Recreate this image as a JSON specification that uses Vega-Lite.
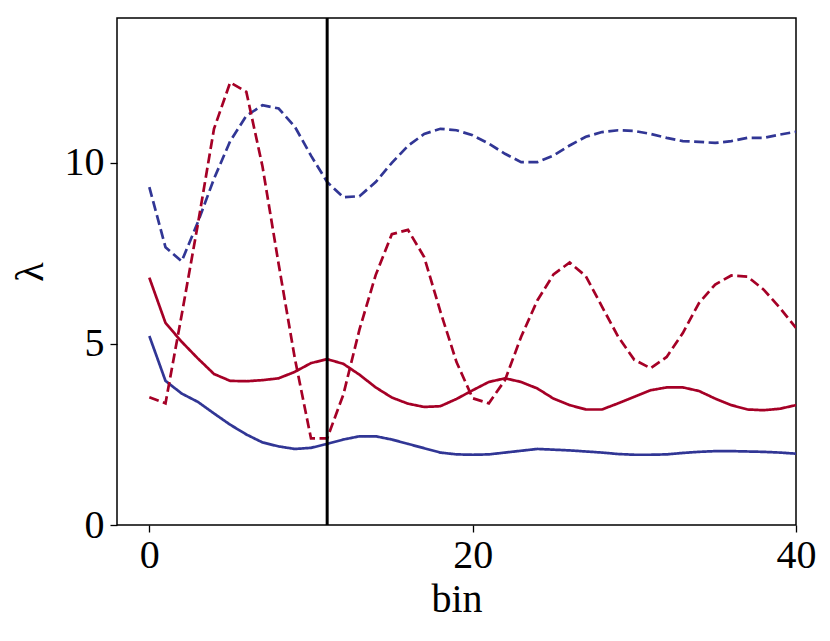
{
  "$schema": "https://vega.github.io/schema/vega-lite/v6.json",
  "width": 679,
  "height": 507,
  "autosize": "none",
  "padding": {"left": 117, "top": 18, "right": 34, "bottom": 116},
  "background": "white",
  "config": {
    "view": {"stroke": "black", "strokeWidth": 1.5},
    "axis": {
      "grid": false,
      "domain": false,
      "labelFont": "Liberation Serif",
      "labelFontSize": 40,
      "labelColor": "black",
      "titleFont": "Liberation Serif",
      "titleFontSize": 40,
      "titleFontWeight": "normal",
      "titleColor": "black",
      "tickColor": "black",
      "tickSize": 7,
      "tickWidth": 1.3
    }
  },
  "layer": [
    {
      "data": {
        "values": [
          {"bin":0,"v":5.22,"s":"bs"},{"bin":1,"v":3.98,"s":"bs"},{"bin":2,"v":3.63,"s":"bs"},{"bin":3,"v":3.4,"s":"bs"},{"bin":4,"v":3.08,"s":"bs"},{"bin":5,"v":2.77,"s":"bs"},{"bin":6,"v":2.5,"s":"bs"},{"bin":7,"v":2.28,"s":"bs"},{"bin":8,"v":2.17,"s":"bs"},{"bin":9,"v":2.1,"s":"bs"},{"bin":10,"v":2.13,"s":"bs"},{"bin":11,"v":2.24,"s":"bs"},{"bin":12,"v":2.36,"s":"bs"},{"bin":13,"v":2.45,"s":"bs"},{"bin":14,"v":2.45,"s":"bs"},{"bin":15,"v":2.36,"s":"bs"},{"bin":16,"v":2.24,"s":"bs"},{"bin":17,"v":2.12,"s":"bs"},{"bin":18,"v":2.0,"s":"bs"},{"bin":19,"v":1.95,"s":"bs"},{"bin":20,"v":1.94,"s":"bs"},{"bin":21,"v":1.95,"s":"bs"},{"bin":22,"v":2.0,"s":"bs"},{"bin":23,"v":2.05,"s":"bs"},{"bin":24,"v":2.1,"s":"bs"},{"bin":25,"v":2.08,"s":"bs"},{"bin":26,"v":2.06,"s":"bs"},{"bin":27,"v":2.03,"s":"bs"},{"bin":28,"v":2.0,"s":"bs"},{"bin":29,"v":1.96,"s":"bs"},{"bin":30,"v":1.94,"s":"bs"},{"bin":31,"v":1.94,"s":"bs"},{"bin":32,"v":1.95,"s":"bs"},{"bin":33,"v":1.99,"s":"bs"},{"bin":34,"v":2.02,"s":"bs"},{"bin":35,"v":2.04,"s":"bs"},{"bin":36,"v":2.04,"s":"bs"},{"bin":37,"v":2.03,"s":"bs"},{"bin":38,"v":2.02,"s":"bs"},{"bin":39,"v":2.0,"s":"bs"},{"bin":40,"v":1.97,"s":"bs"},
          {"bin":0,"v":9.33,"s":"bd"},{"bin":1,"v":7.67,"s":"bd"},{"bin":2,"v":7.28,"s":"bd"},{"bin":3,"v":8.36,"s":"bd"},{"bin":4,"v":9.56,"s":"bd"},{"bin":5,"v":10.6,"s":"bd"},{"bin":6,"v":11.3,"s":"bd"},{"bin":7,"v":11.59,"s":"bd"},{"bin":8,"v":11.5,"s":"bd"},{"bin":9,"v":11.0,"s":"bd"},{"bin":10,"v":10.2,"s":"bd"},{"bin":11,"v":9.47,"s":"bd"},{"bin":12,"v":9.05,"s":"bd"},{"bin":13,"v":9.08,"s":"bd"},{"bin":14,"v":9.47,"s":"bd"},{"bin":15,"v":10.0,"s":"bd"},{"bin":16,"v":10.47,"s":"bd"},{"bin":17,"v":10.8,"s":"bd"},{"bin":18,"v":10.94,"s":"bd"},{"bin":19,"v":10.9,"s":"bd"},{"bin":20,"v":10.76,"s":"bd"},{"bin":21,"v":10.53,"s":"bd"},{"bin":22,"v":10.25,"s":"bd"},{"bin":23,"v":10.02,"s":"bd"},{"bin":24,"v":10.02,"s":"bd"},{"bin":25,"v":10.2,"s":"bd"},{"bin":26,"v":10.48,"s":"bd"},{"bin":27,"v":10.72,"s":"bd"},{"bin":28,"v":10.85,"s":"bd"},{"bin":29,"v":10.9,"s":"bd"},{"bin":30,"v":10.88,"s":"bd"},{"bin":31,"v":10.8,"s":"bd"},{"bin":32,"v":10.69,"s":"bd"},{"bin":33,"v":10.6,"s":"bd"},{"bin":34,"v":10.58,"s":"bd"},{"bin":35,"v":10.55,"s":"bd"},{"bin":36,"v":10.6,"s":"bd"},{"bin":37,"v":10.69,"s":"bd"},{"bin":38,"v":10.69,"s":"bd"},{"bin":39,"v":10.78,"s":"bd"},{"bin":40,"v":10.86,"s":"bd"},
          {"bin":0,"v":6.83,"s":"rs"},{"bin":1,"v":5.58,"s":"rs"},{"bin":2,"v":5.06,"s":"rs"},{"bin":3,"v":4.6,"s":"rs"},{"bin":4,"v":4.17,"s":"rs"},{"bin":5,"v":3.98,"s":"rs"},{"bin":6,"v":3.97,"s":"rs"},{"bin":7,"v":4.0,"s":"rs"},{"bin":8,"v":4.05,"s":"rs"},{"bin":9,"v":4.23,"s":"rs"},{"bin":10,"v":4.47,"s":"rs"},{"bin":11,"v":4.58,"s":"rs"},{"bin":12,"v":4.45,"s":"rs"},{"bin":13,"v":4.15,"s":"rs"},{"bin":14,"v":3.8,"s":"rs"},{"bin":15,"v":3.52,"s":"rs"},{"bin":16,"v":3.35,"s":"rs"},{"bin":17,"v":3.26,"s":"rs"},{"bin":18,"v":3.28,"s":"rs"},{"bin":19,"v":3.48,"s":"rs"},{"bin":20,"v":3.72,"s":"rs"},{"bin":21,"v":3.95,"s":"rs"},{"bin":22,"v":4.05,"s":"rs"},{"bin":23,"v":3.95,"s":"rs"},{"bin":24,"v":3.77,"s":"rs"},{"bin":25,"v":3.49,"s":"rs"},{"bin":26,"v":3.31,"s":"rs"},{"bin":27,"v":3.19,"s":"rs"},{"bin":28,"v":3.19,"s":"rs"},{"bin":29,"v":3.36,"s":"rs"},{"bin":30,"v":3.54,"s":"rs"},{"bin":31,"v":3.72,"s":"rs"},{"bin":32,"v":3.8,"s":"rs"},{"bin":33,"v":3.8,"s":"rs"},{"bin":34,"v":3.7,"s":"rs"},{"bin":35,"v":3.49,"s":"rs"},{"bin":36,"v":3.31,"s":"rs"},{"bin":37,"v":3.19,"s":"rs"},{"bin":38,"v":3.17,"s":"rs"},{"bin":39,"v":3.21,"s":"rs"},{"bin":40,"v":3.31,"s":"rs"},
          {"bin":0,"v":3.53,"s":"rd"},{"bin":1,"v":3.36,"s":"rd"},{"bin":2,"v":5.8,"s":"rd"},{"bin":3,"v":8.3,"s":"rd"},{"bin":4,"v":10.94,"s":"rd"},{"bin":5,"v":12.22,"s":"rd"},{"bin":6,"v":11.96,"s":"rd"},{"bin":7,"v":9.9,"s":"rd"},{"bin":8,"v":7.2,"s":"rd"},{"bin":9,"v":4.6,"s":"rd"},{"bin":10,"v":2.39,"s":"rd"},{"bin":11,"v":2.39,"s":"rd"},{"bin":12,"v":3.6,"s":"rd"},{"bin":13,"v":5.4,"s":"rd"},{"bin":14,"v":6.9,"s":"rd"},{"bin":15,"v":8.03,"s":"rd"},{"bin":16,"v":8.15,"s":"rd"},{"bin":17,"v":7.4,"s":"rd"},{"bin":18,"v":5.9,"s":"rd"},{"bin":19,"v":4.5,"s":"rd"},{"bin":20,"v":3.5,"s":"rd"},{"bin":21,"v":3.36,"s":"rd"},{"bin":22,"v":4.0,"s":"rd"},{"bin":23,"v":5.2,"s":"rd"},{"bin":24,"v":6.2,"s":"rd"},{"bin":25,"v":6.92,"s":"rd"},{"bin":26,"v":7.25,"s":"rd"},{"bin":27,"v":6.87,"s":"rd"},{"bin":28,"v":6.03,"s":"rd"},{"bin":29,"v":5.2,"s":"rd"},{"bin":30,"v":4.56,"s":"rd"},{"bin":31,"v":4.33,"s":"rd"},{"bin":32,"v":4.64,"s":"rd"},{"bin":33,"v":5.3,"s":"rd"},{"bin":34,"v":6.13,"s":"rd"},{"bin":35,"v":6.64,"s":"rd"},{"bin":36,"v":6.89,"s":"rd"},{"bin":37,"v":6.86,"s":"rd"},{"bin":38,"v":6.5,"s":"rd"},{"bin":39,"v":6.0,"s":"rd"},{"bin":40,"v":5.44,"s":"rd"}
        ]
      },
      "mark": {"type": "line", "strokeWidth": 2.7, "clip": true},
      "encoding": {
        "x": {
          "field": "bin", "type": "quantitative",
          "scale": {"domain": [-2, 40], "nice": false, "zero": false},
          "axis": {"values": [0, 20, 40], "title": "bin", "labelPadding": 3, "titlePadding": 4, "labelFlush": false}
        },
        "y": {
          "field": "v", "type": "quantitative",
          "scale": {"domain": [0, 14], "nice": false},
          "axis": {"values": [0, 5, 10], "title": "λ", "labelPadding": 6, "titlePadding": 14}
        },
        "color": {
          "field": "s", "type": "nominal",
          "scale": {"domain": ["bs", "bd", "rs", "rd"], "range": ["#313695", "#313695", "#a50026", "#a50026"]},
          "legend": null
        },
        "strokeDash": {
          "field": "s", "type": "nominal",
          "scale": {"domain": ["bs", "bd", "rs", "rd"], "range": [[1, 0], [10, 4.5], [1, 0], [10, 4.5]]},
          "legend": null
        }
      }
    },
    {
      "data": {"values": [{"bin": 11}]},
      "mark": {"type": "rule", "color": "black", "strokeWidth": 3},
      "encoding": {"x": {"field": "bin", "type": "quantitative"}}
    }
  ]
}
